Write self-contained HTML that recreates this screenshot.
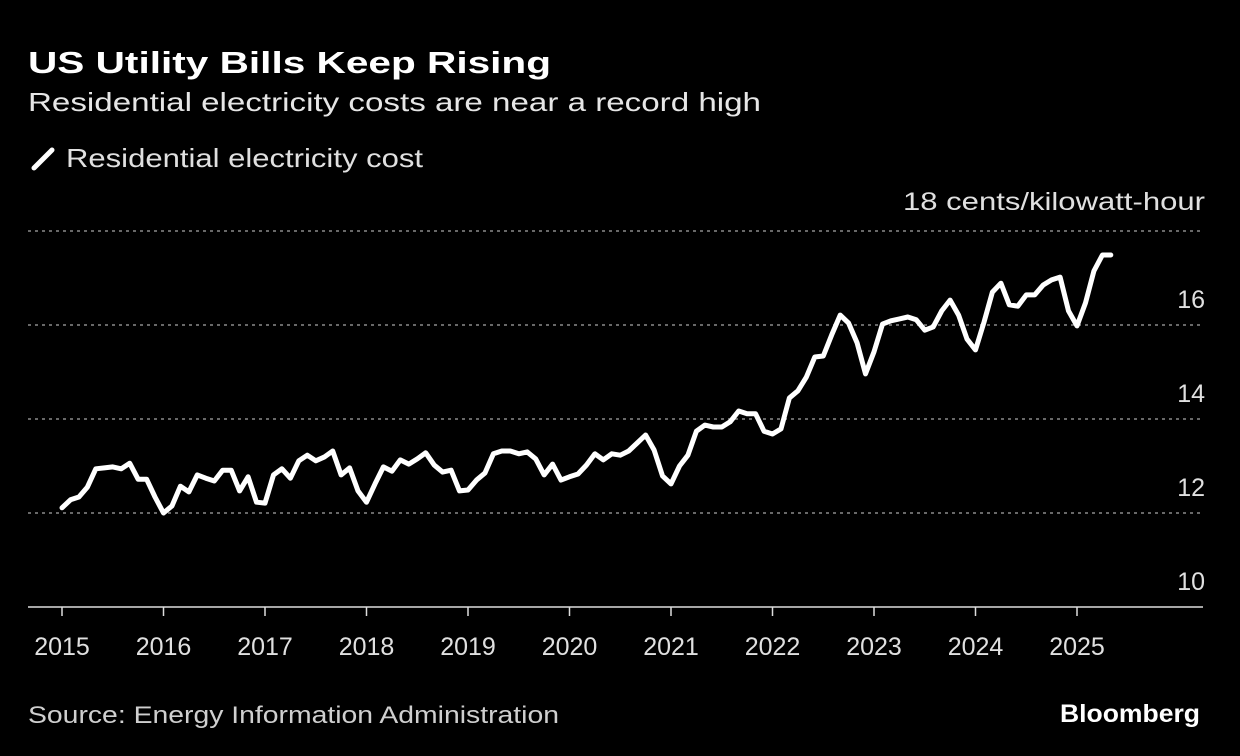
<!DOCTYPE html>
<html><head><meta charset="utf-8"><style>
body{margin:0;background:#000;width:1240px;height:756px;overflow:hidden;font-family:"Liberation Sans",sans-serif;color:#fff}
</style></head><body>
<svg id="c" width="1240" height="756" style="position:absolute;left:0;top:0">
<text x="28" y="73" font-size="31" font-weight="bold" fill="#fff" textLength="523" lengthAdjust="spacingAndGlyphs">US Utility Bills Keep Rising</text>
<text x="28" y="111" font-size="26" fill="#e6e6e6" textLength="733" lengthAdjust="spacingAndGlyphs">Residential electricity costs are near a record high</text>
<line x1="34" y1="168" x2="52" y2="150" stroke="#fff" stroke-width="5" stroke-linecap="round"/>
<text x="66" y="167" font-size="26" fill="#e0e0e0" textLength="357" lengthAdjust="spacingAndGlyphs">Residential electricity cost</text>
<text x="903" y="210" font-size="25" fill="#e0e0e0" textLength="302" lengthAdjust="spacingAndGlyphs">18 cents/kilowatt-hour</text>
<g id="grid"></g><g id="xax"></g>
<path id="line" fill="none" stroke="#fff" stroke-width="5" stroke-linejoin="round" stroke-linecap="round"/>
<text x="28" y="723" font-size="24" fill="#cfcfcf" textLength="531" lengthAdjust="spacingAndGlyphs">Source: Energy Information Administration</text>
<text x="1060" y="722" font-size="25" font-weight="bold" fill="#fff" textLength="140" lengthAdjust="spacingAndGlyphs">Bloomberg</text>
</svg>
<script>
const startYear = 2015;
const values = [12.11,12.28,12.34,12.55,12.94,12.96,12.98,12.94,13.06,12.72,12.72,12.34,
12.00,12.15,12.57,12.45,12.81,12.74,12.68,12.91,12.91,12.47,12.77,12.23,
12.21,12.81,12.94,12.74,13.11,13.23,13.11,13.19,13.32,12.81,12.96,12.47,
12.23,12.62,12.98,12.89,13.13,13.04,13.15,13.28,13.02,12.87,12.91,12.47,
12.49,12.70,12.85,13.26,13.32,13.32,13.26,13.30,13.15,12.81,13.04,12.70,
12.77,12.83,13.02,13.26,13.13,13.26,13.23,13.32,13.49,13.66,13.34,12.79,
12.62,13.00,13.23,13.74,13.87,13.83,13.83,13.94,14.17,14.11,14.11,13.74,
13.68,13.79,14.45,14.60,14.89,15.32,15.34,15.79,16.21,16.04,15.62,14.96,
15.43,16.02,16.09,16.13,16.17,16.11,15.89,15.96,16.30,16.53,16.21,15.70,
15.47,16.06,16.70,16.89,16.43,16.40,16.64,16.64,16.85,16.96,17.02,16.30,
15.98,16.47,17.15,17.49,17.49];
const yTicks = [10,12,14,16,18];
const xTicks = [2015,2016,2017,2018,2019,2020,2021,2022,2023,2024,2025];
const NS="http://www.w3.org/2000/svg";
const y = v => 607 - (v-10)*47;
const x = m => 62 + m*(101.5/12);
const grid=document.getElementById('grid'), xax=document.getElementById('xax');
yTicks.forEach(t=>{
  if(t>10){
    const l=document.createElementNS(NS,'line');
    l.setAttribute('x1',28);l.setAttribute('x2',1203);l.setAttribute('y1',y(t));l.setAttribute('y2',y(t));
    l.setAttribute('stroke','#8a8a8a');l.setAttribute('stroke-width','1.5');l.setAttribute('stroke-dasharray','3,4');
    
    
    grid.appendChild(l);
  }
  if(t<18){
    const tx=document.createElementNS(NS,'text');
    tx.setAttribute('x',1205);tx.setAttribute('y',y(t)-17);tx.setAttribute('text-anchor','end');
    tx.setAttribute('font-size','25');tx.setAttribute('fill','#e0e0e0');tx.textContent=t;
    
    
    grid.appendChild(tx);
  }
});
const ax=document.createElementNS(NS,'line');
ax.setAttribute('x1',28);ax.setAttribute('x2',1203);ax.setAttribute('y1',607);ax.setAttribute('y2',607);
ax.setAttribute('stroke','#ddd');ax.setAttribute('stroke-width','1.5');


xax.appendChild(ax);
xTicks.forEach(yr=>{
  const px=x((yr-startYear)*12);
  const l=document.createElementNS(NS,'line');
  l.setAttribute('x1',px);l.setAttribute('x2',px);l.setAttribute('y1',607);l.setAttribute('y2',616);
  l.setAttribute('stroke','#ddd');l.setAttribute('stroke-width','1.5');
  
  
  xax.appendChild(l);
  const t=document.createElementNS(NS,'text');
  t.setAttribute('x',px);t.setAttribute('y',655);t.setAttribute('text-anchor','middle');
  t.setAttribute('font-size','25');t.setAttribute('fill','#e0e0e0');t.textContent=yr;
  
  
  xax.appendChild(t);
});
document.getElementById('line').setAttribute('d',values.map((v,i)=>(i?'L':'M')+x(i).toFixed(1)+','+y(v).toFixed(1)).join(''));
</script>
</body></html>
